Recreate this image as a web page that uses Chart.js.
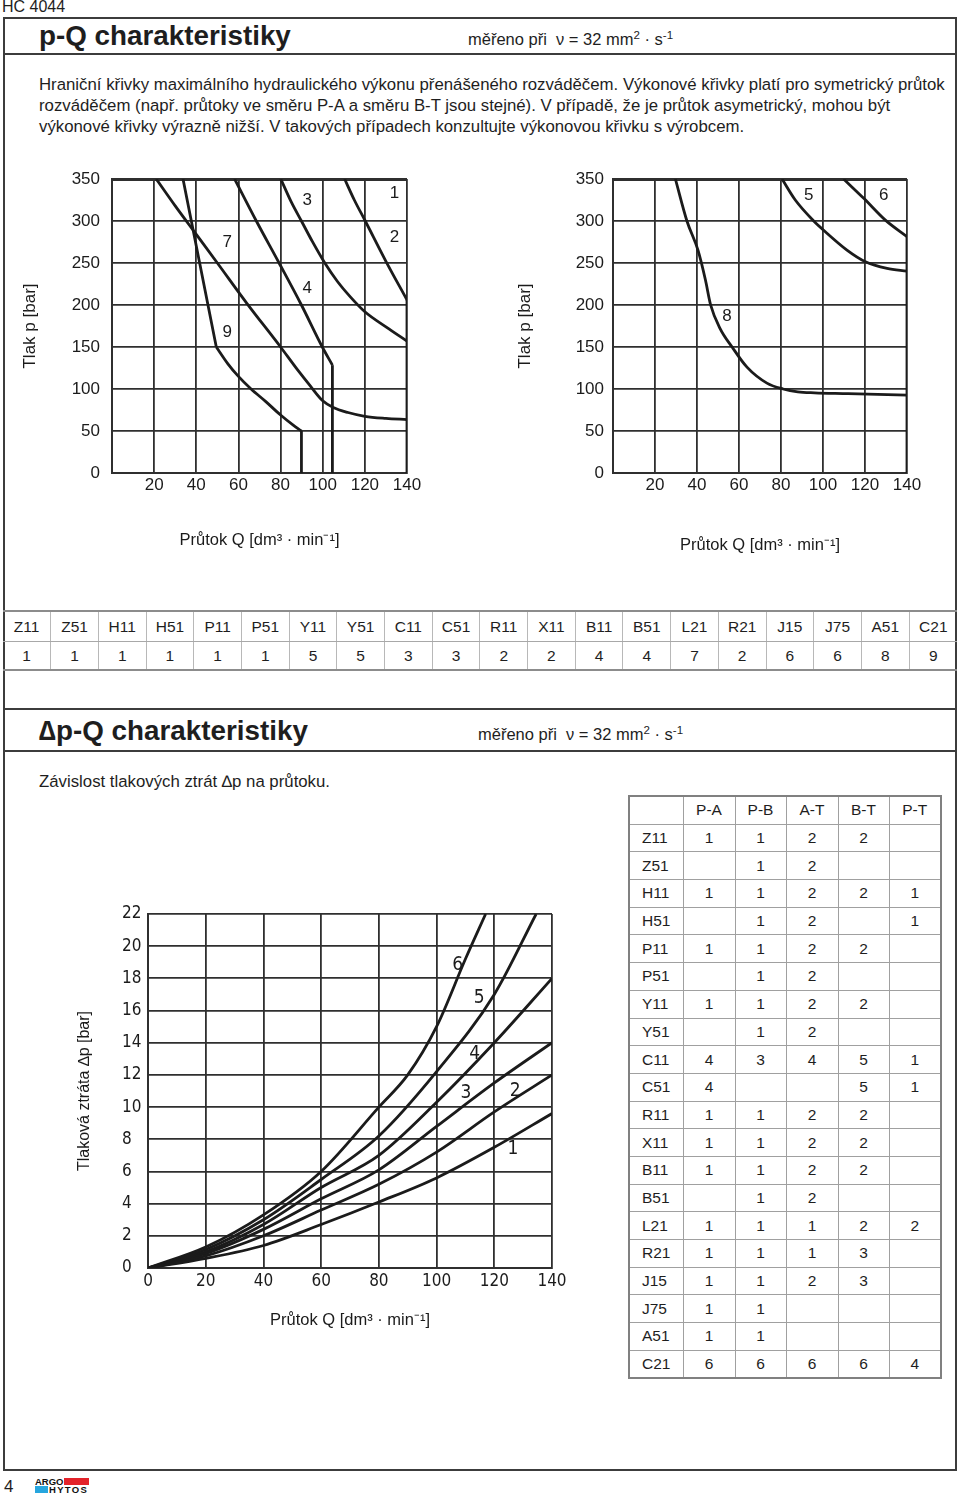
<!DOCTYPE html>
<html lang="cs">
<head>
<meta charset="utf-8">
<title>HC 4044 - p-Q a Δp-Q charakteristiky</title>
<script src="https://cdn.jsdelivr.net/npm/chart.js@4.4.1/dist/chart.umd.min.js"></script>
<style>
  html, body { margin: 0; padding: 0; background: #fff; }
  body { width: 960px; height: 1501px; position: relative; overflow: hidden;
         font-family: "Liberation Sans", Arial, Helvetica, sans-serif; color: #1e1e1e; }
  .abs { position: absolute; }
  .frame { left: 3px; top: 17px; width: 954px; height: 1454px; box-sizing: border-box; border: 2px solid #3c3c3c; }
  .hline { left: 3px; width: 954px; height: 2px; background: #3c3c3c; }
  .title { font-size: 27.8px; font-weight: bold; line-height: 30px; white-space: nowrap; }
  .meas { font-size: 16.5px; line-height: 20px; white-space: nowrap; }
  .para { font-size: 16.8px; line-height: 21px; white-space: nowrap; }
  sup { font-size: 0.7em; vertical-align: 0.55em; line-height: 0; }
  #codeTable { left: 3px; top: 610px; width: 954px; border-collapse: collapse; table-layout: fixed; font-size: 15.5px; }
  #codeTable td { text-align: center; padding: 0; border-left: 1px solid #b8b8b8; }
  #codeTable td:first-child { border-left: none; }
  #codeTable tr:first-child td { height: 29px; border-top: 2px solid #8c8c8c; border-bottom: 1px solid #a8a8a8; }
  #codeTable tr:last-child td { height: 27px; border-bottom: 2px solid #8c8c8c; }
  #dpTable { left: 628px; top: 795px; width: 312px; border-collapse: collapse; table-layout: fixed; font-size: 15.5px; border: 2px solid #808080; }
  #dpTable td { border: 1px solid #a0a0a0; height: 26.7px; padding: 0; text-align: center; }
  #dpTable td:first-child { text-align: left; padding-left: 12px; }
  .logo-t { position: absolute; font: bold 9.5px/8px "Liberation Sans", Arial, sans-serif; color: #111; }
</style>
</head>
<body>
<div class="abs" style="left:2px;top:-2px;font-size:16px;">HC 4044</div>
<div class="abs frame"></div>

<div class="abs title" style="left:39px;top:21px;">p-Q charakteristiky</div>
<div class="abs meas" style="left:468px;top:29px;">měřeno při&nbsp; ν = 32 mm<sup>2</sup> · s<sup>-1</sup></div>
<div class="abs hline" style="top:53px;"></div>
<div class="abs para" style="left:39px;top:74px;">Hraniční křivky maximálního hydraulického výkonu přenášeného rozváděčem. Výkonové křivky platí pro symetrický průtok<br>rozváděčem (např. průtoky ve směru P-A a směru B-T jsou stejné). V případě, že je průtok asymetrický, mohou být<br>výkonové křivky výrazně nižší. V takových případech konzultujte výkonovou křivku s výrobcem.</div>

<canvas id="pqLeft" class="abs" style="left:0;top:150px;" width="450" height="420"></canvas>
<canvas id="pqRight" class="abs" style="left:480px;top:150px;" width="480" height="420"></canvas>

<table id="codeTable" class="abs"></table>

<div class="abs hline" style="top:708px;"></div>
<div class="abs title" style="left:39px;top:716px;">∆p-Q charakteristiky</div>
<div class="abs meas" style="left:478px;top:724px;">měřeno při&nbsp; ν = 32 mm<sup>2</sup> · s<sup>-1</sup></div>
<div class="abs hline" style="top:750px;"></div>
<div class="abs para" style="left:39px;top:771px;">Závislost tlakových ztrát ∆p na průtoku.</div>

<canvas id="dpChart" class="abs" style="left:60px;top:890px;" width="540" height="450"></canvas>

<table id="dpTable" class="abs">
  <colgroup><col style="width:54px"><col style="width:52px"><col style="width:51px"><col style="width:52px"><col style="width:51px"><col style="width:52px"></colgroup>
</table>

<div class="abs" style="left:4px;top:1477px;font-size:17px;">4</div>
<div class="abs" style="left:35px;top:1478px;width:54px;height:16px;">
  <div class="logo-t" style="left:0;top:0;">ARGO</div>
  <div style="position:absolute;left:29px;top:0;width:25px;height:7px;background:#e3232a;"></div>
  <div style="position:absolute;left:0;top:8px;width:13px;height:7px;background:#27a6de;"></div>
  <div class="logo-t" style="left:14px;top:8px;letter-spacing:1.3px;">HYTOS</div>
</div>

<script>
'use strict';
// axes
const flowTicks = [0, 20, 40, 60, 80, 100, 120, 140];
const pressureTicks = [0, 50, 100, 150, 200, 250, 300, 350];
const lossTicks = [0, 2, 4, 6, 8, 10, 12, 14, 16, 18, 20, 22];

// p-Q left chart: Q [dm3/min], p [bar]
const c12Q = [110.4, 115, 120.2, 130, 140];
const c12P = [350, 325, 300, 252, 206];
const c12EndQ = [140, 140];
const c12EndP = [206, 0];
const c3Q = [80.1, 85, 89.9, 95, 101, 107, 113, 120, 130, 140];
const c3P = [350, 323, 300, 276, 250, 228, 210, 192, 174, 157];
const c4Q = [58.2, 68.5, 79.3, 89.9, 99.8, 104.6];
const c4P = [350, 300, 250, 200, 150, 128.4];
const c4EndQ = [104.6, 104.6];
const c4EndP = [128.4, 0];
const c7Q = [21, 30, 40, 50, 64, 80, 88, 94, 100, 105, 112, 120, 130, 140];
const c7P = [350, 318, 284, 250, 202, 150, 123, 104, 86, 78, 72, 67.5, 65, 63.6];
const c9TopQ = [33.7, 49.5];
const c9TopP = [350, 150];
const c9Q = [49.5, 55, 60, 66, 73, 80, 86, 89.9];
const c9P = [150, 130, 115, 100, 85, 69, 57, 50];
const c9EndQ = [89.9, 89.9];
const c9EndP = [50, 0];
const leftLabels = ['1', '2', '3', '4', '7', '9'];
const leftLabelQ = [134, 134, 92.6, 92.6, 54.7, 54.7];
const leftLabelP = [333, 280, 325, 220, 275, 168];

// p-Q right chart
const c8Q = [29.7, 35.2, 40.5, 44, 46.5, 51, 56.7, 63.8, 73.3, 81, 88, 96, 112, 140];
const c8P = [350, 300, 265, 230, 200, 172, 150, 126, 107, 100, 96.6, 95.5, 94.6, 92.6];
const c5Q = [80.5, 86.8, 95.6, 100.3, 111.4, 120.2, 130.5, 140];
const c5P = [350, 325, 300, 289, 265.4, 251.5, 243.6, 240.4];
const c6Q = [109.8, 119.4, 129.7, 140];
const c6P = [350, 327, 301, 281.3];
const c6EndQ = [140, 140];
const c6EndP = [281.3, 0];
const rightLabels = ['5', '6', '8'];
const rightLabelQ = [93.2, 128.9, 54.3];
const rightLabelP = [331, 331, 186];

// dp-Q chart
const lossQ = [0, 20, 40, 60, 80, 100, 120, 140];
const dp1 = [0, 0.6, 1.4, 2.7, 4.1, 5.6, 7.5, 9.6];
const dp2 = [0, 0.75, 2.0, 3.6, 5.2, 7.2, 9.7, 12.0];
const dp3 = [0, 0.9, 2.4, 4.3, 6.1, 8.8, 11.5, 14.0];
const dp4 = [0, 1.0, 2.7, 5.0, 7.0, 10.3, 14.0, 18.0];
const dp5Q = [0, 20, 40, 60, 80, 100, 120, 134.5];
const dp5 = [0, 1.15, 3.0, 5.5, 8.2, 12.2, 17.0, 22];
const dp6Q = [0, 20, 40, 60, 80, 90, 100, 110, 117];
const dp6 = [0, 1.3, 3.3, 6.0, 10.0, 12.0, 15.0, 19.2, 22];
const dpLabels = ['6', '5', '4', '3', '2', '1'];
const dpLabelQ = [107.3, 114.8, 113.2, 110.2, 127.2, 126.5];
const dpLabelP = [18.8, 16.8, 13.3, 10.9, 11.0, 7.4];

// tables
const spoolCodes = ['Z11', 'Z51', 'H11', 'H51', 'P11', 'P51', 'Y11', 'Y51', 'C11', 'C51', 'R11', 'X11', 'B11', 'B51', 'L21', 'R21', 'J15', 'J75', 'A51', 'C21'];
const spoolPqCurve = [1, 1, 1, 1, 1, 1, 5, 5, 3, 3, 2, 2, 4, 4, 7, 2, 6, 6, 8, 9];
const dpHead = ['P-A', 'P-B', 'A-T', 'B-T', 'P-T'];
const dpPA = [1, '', 1, '', 1, '', 1, '', 4, 4, 1, 1, 1, '', 1, 1, 1, 1, 1, 6];
const dpPB = [1, 1, 1, 1, 1, 1, 1, 1, 3, '', 1, 1, 1, 1, 1, 1, 1, 1, 1, 6];
const dpAT = [2, 2, 2, 2, 2, 2, 2, 2, 4, '', 2, 2, 2, 2, 1, 1, 2, '', '', 6];
const dpBT = [2, '', 2, '', 2, '', 2, '', 5, 5, 2, 2, 2, '', 2, 3, 3, '', '', 6];
const dpPT = ['', '', 1, 1, '', '', '', '', 1, 1, '', '', '', '', 2, '', '', '', '', 4];

// styles
const ink = '#1b1b1b';
const gridInk = '#2f2f2f';
const helv = '"Liberation Sans", Arial, Helvetica, sans-serif';
const din = '"DejaVu Sans Condensed", "DejaVu Sans", sans-serif';

function curve(qs, ps) {
  return {
    data: qs.map((q, i) => ({x: q, y: ps[i]})),
    borderColor: ink,
    borderWidth: 2.8,
    pointRadius: 0,
    cubicInterpolationMode: 'monotone',
    fill: false
  };
}

// numbers written next to the curves
const curveLabels = {
  id: 'curveLabels',
  afterDatasetsDraw(chart, args, opts) {
    const ctx = chart.ctx;
    const x = chart.scales.x;
    const y = chart.scales.y;
    ctx.save();
    ctx.font = opts.font;
    ctx.fillStyle = ink;
    ctx.textAlign = 'center';
    ctx.textBaseline = 'middle';
    for (let i = 0; i < opts.text.length; i++) {
      ctx.fillText(opts.text[i], x.getPixelForValue(opts.q[i]), y.getPixelForValue(opts.p[i]));
    }
    ctx.restore();
  }
};

function buildChart(id, datasets, labels, lay) {
  return new Chart(document.getElementById(id), {
    type: 'line',
    data: {datasets: datasets},
    plugins: [curveLabels],
    options: {
      responsive: false,
      animation: false,
      events: [],
      layout: {autoPadding: false, padding: lay.pad},
      plugins: {
        legend: {display: false},
        tooltip: {enabled: false},
        curveLabels: labels
      },
      scales: {
        x: {
          type: 'linear', min: 0, max: 140,
          afterBuildTicks: s => { s.ticks = flowTicks.map(v => ({value: v})); },
          afterFit: s => { s.height = lay.xH; s.paddingLeft = 0; s.paddingRight = 0; },
          ticks: {padding: lay.xTickPad, color: ink, font: lay.tickFont, maxRotation: 0, autoSkip: false,
                  callback: v => (v === 0 && !lay.showZeroQ) ? '' : v},
          grid: {color: gridInk, lineWidth: 1.8, drawTicks: false},
          border: {color: gridInk, width: 2},
          title: {display: true, text: 'Průtok Q [dm³ · min⁻¹]', color: ink,
                  font: {family: helv, size: 16.5}, padding: 0}
        },
        y: {
          type: 'linear', min: 0, max: lay.yMax,
          afterBuildTicks: s => { s.ticks = lay.yTicks.map(v => ({value: v})); },
          afterFit: s => { s.width = lay.yW; s.paddingTop = 0; s.paddingBottom = 0; },
          ticks: {padding: lay.yTickPad, crossAlign: lay.yAlign, color: ink, font: lay.tickFont, autoSkip: false},
          grid: {color: gridInk, drawTicks: false,
                 lineWidth: c => (c.tick && c.tick.value === lay.yMax && lay.thickTop) ? 3 : 1.8},
          border: {color: gridInk, width: 2},
          title: {display: true, text: lay.yTitle, color: ink,
                  font: {family: helv, size: lay.yTitleSize}, padding: {top: lay.yTitleOff, bottom: 0}}
        }
      }
    }
  });
}

const helvTicks = {family: helv, size: 17};

buildChart('pqLeft', [
  curve(c12Q, c12P), curve(c12EndQ, c12EndP),
  curve(c3Q, c3P),
  curve(c4Q, c4P), curve(c4EndQ, c4EndP),
  curve(c7Q, c7P),
  curve(c9TopQ, c9TopP), curve(c9Q, c9P), curve(c9EndQ, c9EndP)
], {text: leftLabels, q: leftLabelQ, p: leftLabelP, font: '17px ' + helv}, {
  pad: {left: 20, top: 29, right: 43, bottom: 20},
  xH: 77, yW: 92, xTickPad: 2, yTickPad: 12, yAlign: 'near',
  yMax: 350, yTicks: pressureTicks, thickTop: true, showZeroQ: false,
  tickFont: helvTicks, yTitle: 'Tlak p [bar]', yTitleSize: 17, yTitleOff: 0
});

buildChart('pqRight', [
  curve(c8Q, c8P),
  curve(c5Q, c5P),
  curve(c6Q, c6P), curve(c6EndQ, c6EndP)
], {text: rightLabels, q: rightLabelQ, p: rightLabelP, font: '17px ' + helv}, {
  pad: {left: 35, top: 29, right: 53, bottom: 15},
  xH: 82, yW: 98, xTickPad: 2, yTickPad: 9, yAlign: 'near',
  yMax: 350, yTicks: pressureTicks, thickTop: true, showZeroQ: false,
  tickFont: helvTicks, yTitle: 'Tlak p [bar]', yTitleSize: 17, yTitleOff: 0
});

buildChart('dpChart', [
  curve(lossQ, dp1), curve(lossQ, dp2), curve(lossQ, dp3), curve(lossQ, dp4),
  curve(dp5Q, dp5), curve(dp6Q, dp6)
], {text: dpLabels, q: dpLabelQ, p: dpLabelP, font: '19px ' + din}, {
  pad: {left: 62, top: 24, right: 48, bottom: 10},
  xH: 62, yW: 26, xTickPad: 3, yTickPad: 8, yAlign: 'far',
  yMax: 22, yTicks: lossTicks, thickTop: false, showZeroQ: true,
  tickFont: {family: din, size: 17}, yTitle: 'Tlaková ztráta ∆p [bar]', yTitleSize: 16, yTitleOff: -46.6
});

// spool -> p-Q curve table
let codeTable = document.getElementById('codeTable');
let codeRow = codeTable.insertRow();
let curveRow = codeTable.insertRow();
spoolCodes.forEach((code, i) => {
  codeRow.insertCell().textContent = code;
  curveRow.insertCell().textContent = spoolPqCurve[i];
});

// spool -> dp-Q curve table
let dpTable = document.getElementById('dpTable');
let headRow = dpTable.insertRow();
headRow.insertCell().textContent = '';
dpHead.forEach(h => { headRow.insertCell().textContent = h; });
const dpCols = [dpPA, dpPB, dpAT, dpBT, dpPT];
spoolCodes.forEach((code, i) => {
  let row = dpTable.insertRow();
  row.insertCell().textContent = code;
  dpCols.forEach(col => { row.insertCell().textContent = col[i]; });
});
</script>
</body>
</html>
